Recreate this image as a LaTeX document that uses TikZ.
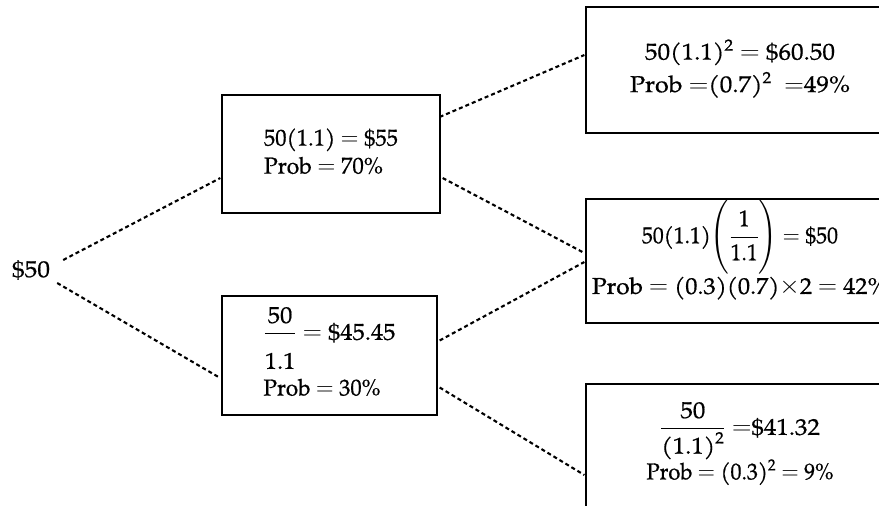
\documentclass[tikz,border=0pt]{standalone}
\usepackage{amsmath}
\usepackage{fontspec}
\setmainfont{TeX Gyre Pagella}[UprightFeatures={FakeBold=0.6}]
\usepackage{graphicx}
\newcommand{\fw}[2]{\resizebox{#1}{\height}{#2}}
\newcommand{\lift}[2]{\raisebox{#1}[\height][\depth]{#2}}
\begin{document}
\begin{tikzpicture}[x=1pt,y=-1pt,
  font=\fontsize{23}{28}\selectfont,
  box/.style={draw,line width=1.3pt,inner sep=0pt},
  dl/.style={line width=2.1pt,dash pattern=on 4pt off 3pt}]
\useasboundingbox (0,0) rectangle (879,506);
\fill[white] (0,0) rectangle (879,506);
\clip (0,0) rectangle (879,506);

\node[inner sep=0pt] (S) at (31,270) {\fw{38pt}{\$50}};

\node[box,minimum width=218pt,minimum height=118pt] (A) at (331,154)
  {\begin{tabular}{@{}l@{}}
   \fw{134pt}{50(1.1) $=$ \$55}\\
   \fw{119pt}{Prob $=$ 70\%}
   \end{tabular}};

\node[box,minimum width=215pt,minimum height=119pt] (B) at (329.5,355.5)
  {\begin{tabular}{@{}l@{}}
   \fw{132pt}{$\genfrac{}{}{}{0}{\text{50}}{\raisebox{-12pt}[0pt][19pt]{1.1}}$ $=$ \$45.45}\\
   \fw{117pt}{Prob $=$ 30\%}
   \end{tabular}};

\node[box,minimum width=308pt,minimum height=126pt] (C) at (740,70)
  {\begin{tabular}{@{}c@{}}
   \fw{190pt}{50(1.1)$^{\text{2}}$ $=$ \$60.50}\\[4pt]
   \fw{220pt}{Prob $=$(0.7)$^{\text{2}}$\ \ $=$49\%}
   \end{tabular}};

\node[box,minimum width=308pt,minimum height=124pt] (D) at (740,261)
  {\lift{10pt}{\begin{tabular}{@{}c@{}}
   \fw{196pt}{50(1.1)$\Biggl(\dfrac{\text{1}}{\text{1.1}}\Biggr)$ $=$ \$50}\\
   \fw{296pt}{Prob $=$ (0.3)(0.7)$\times$2 $=$ 42\%}
   \end{tabular}}};

\node[box,minimum width=308pt,minimum height=140pt] (E) at (740,454)
  {\lift{9pt}{\begin{tabular}{@{}c@{}}
   \fw{160pt}{$\dfrac{\text{50}}{\text{(1.1)}^{\text{2}}}$ $=$\$41.32}\\[16pt]
   \fw{187pt}{Prob $=$ (0.3)$^{\text{2}}$ $=$ 9\%}
   \end{tabular}}};

\draw[dl] ([xshift=13pt,yshift=10pt]S.east) -- ([xshift=-1pt,yshift=-24pt]A.west);
\draw[dl] ([xshift=7pt,yshift=-13pt]S.east) -- ([xshift=-2pt,yshift=-22pt]B.west);
\draw[dl] ([xshift=-1pt,yshift=37pt]A.east) -- ([xshift=-1pt,yshift=15pt]C.west);
\draw[dl] ([xshift=2pt,yshift=-24pt]A.east) -- ([xshift=-1pt,yshift=8pt]D.west);
\draw[dl] ([xshift=2pt,yshift=15pt]B.east) -- ([xshift=-1pt,yshift=-1pt]D.west);
\draw[dl] ([xshift=2pt,yshift=-32pt]B.east) -- ([xshift=-1pt,yshift=-21pt]E.west);
\end{tikzpicture}
\end{document}
